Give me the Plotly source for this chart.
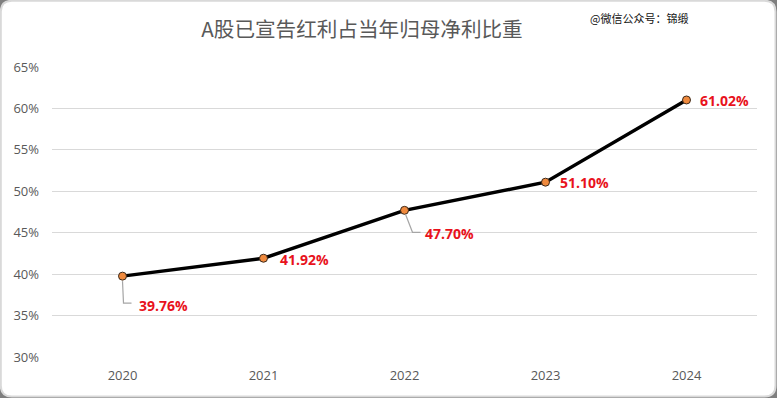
import plotly.graph_objects as go

years = ["2020", "2021", "2022", "2023", "2024"]
ratio = [39.76, 41.92, 47.70, 51.10, 61.02]
label_text = ["39.76%", "41.92%", "47.70%", "51.10%", "61.02%"]
y_ticks = [30, 35, 40, 45, 50, 55, 60, 65]
y_tick_text = ["30%", "35%", "40%", "45%", "50%", "55%", "60%", "65%"]

title_text = "A股已宣告红利占当年归母净利比重"
watermark = "@微信公众号：锦缎"

W, H = 777, 398
ML, MR, MT, MB = 52, 20, 67, 41
PW, PH = W - ML - MR, H - MT - MB

# label offsets in pixels (style), and leader paths for some labels
label_dx = [14, 14, 18, 12, 11]
label_dy = [-29, -1, -23, 0, -1]
leaders = {0: "M0,-5 L1,-27 L9,-27", 2: "M1,-4 L8,-22 L16,-22"}

fig = go.Figure()

fig.add_trace(go.Scatter(
    x=years, y=ratio, mode="lines+markers",
    line=dict(color="#000000", width=3.5),
    marker=dict(size=8, color="#F08A3E", line=dict(color="#3b2a1c", width=1)),
    hoverinfo="skip", showlegend=False,
))

def px_to_paper_x(px):
    return (px - ML) / PW

def py_to_paper_y(py):
    return (H - MB - py) / PH

# rounded white card with grey border
r = 11
x0, x1, y0, y1 = 0.8, W - 1.5, 0.8, H - 1.5
def P(px, py):
    return f"{px_to_paper_x(px):.5f},{py_to_paper_y(py):.5f}"
path = (f"M{P(x0 + r, y0)} L{P(x1 - r, y0)} Q{P(x1, y0)} {P(x1, y0 + r)} "
        f"L{P(x1, y1 - r)} Q{P(x1, y1)} {P(x1 - r, y1)} "
        f"L{P(x0 + r, y1)} Q{P(x0, y1)} {P(x0, y1 - r)} "
        f"L{P(x0, y0 + r)} Q{P(x0, y0)} {P(x0 + r, y0)} Z")
shapes = [dict(type="path", xref="paper", yref="paper", path=path,
               fillcolor="#ffffff", line=dict(color="#d9d9d9", width=2), layer="below")]

for i, p in leaders.items():
    shapes.append(dict(type="path", xref="x", yref="y", xsizemode="pixel", ysizemode="pixel",
                       xanchor=i, yanchor=ratio[i], path=p,
                       line=dict(color="#a6a6a6", width=1.2), layer="above"))

annotations = []
for i in range(len(years)):
    annotations.append(dict(
        x=i, y=ratio[i], xref="x", yref="y", text=label_text[i],
        showarrow=False, xanchor="left", yanchor="middle",
        xshift=label_dx[i], yshift=label_dy[i],
        font=dict(family="Open Sans", size=14, color="#E8121C", weight="bold"),
    ))

annotations.append(dict(
    x=px_to_paper_x(588), y=py_to_paper_y(18), xref="paper", yref="paper", text=watermark,
    showarrow=False, xanchor="left", yanchor="middle",
    font=dict(family="Noto Sans CJK SC", size=11, color="#111111"),
))

fig.update_layout(
    width=W, height=H,
    margin=dict(l=ML, r=MR, t=MT, b=MB),
    paper_bgcolor="#7f7f7f", plot_bgcolor="rgba(0,0,0,0)",
    title=dict(text=title_text, x=362 / W, xanchor="center", xref="container",
               y=1 - 30 / H, yref="container", yanchor="middle",
               font=dict(family="Noto Sans CJK SC", size=20.6, color="#595959")),
    shapes=shapes, annotations=annotations,
    xaxis=dict(type="category", range=[-0.5, 4.5],
               showgrid=False, showline=False, zeroline=False, ticks="",
               tickfont=dict(family="Open Sans", size=13, color="#595959"),
               ticklabelstandoff=9, fixedrange=True),
    yaxis=dict(range=[30, 65], tickmode="array", tickvals=y_ticks, ticktext=y_tick_text,
               showgrid=True, gridcolor="#d9d9d9", gridwidth=1,
               showline=False, zeroline=False, ticks="",
               tickfont=dict(family="Open Sans", size=13, color="#595959"),
               ticklabelstandoff=12, fixedrange=True),
)

fig.write_html("out.html", config={"displayModeBar": False},
               post_script="document.body.style.margin='0';document.body.style.overflow='hidden';")
